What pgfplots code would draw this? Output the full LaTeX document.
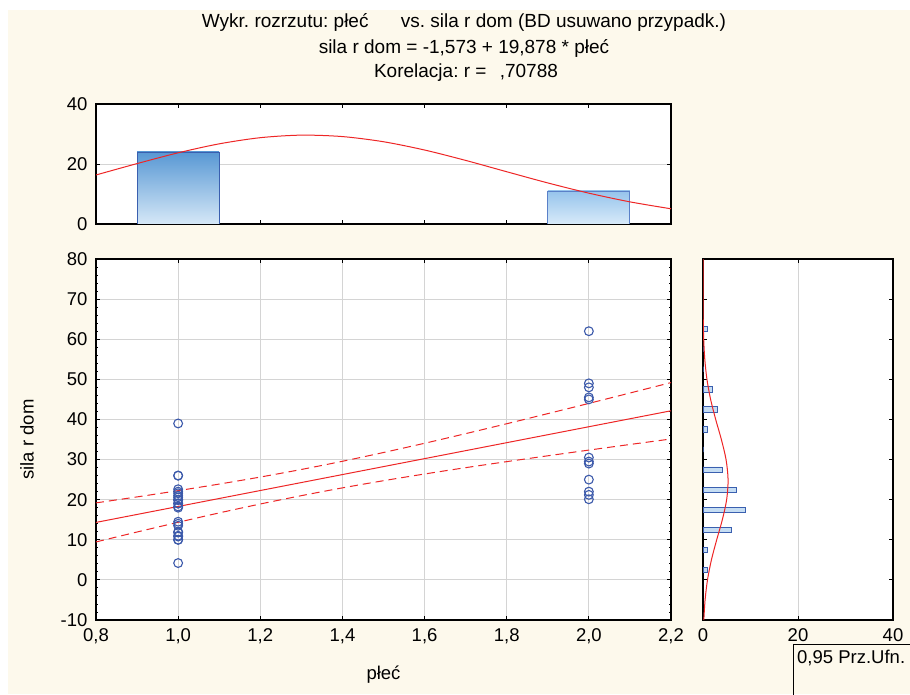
\documentclass[border=0pt]{standalone}
\usepackage{fontspec}
\setmainfont{Liberation Sans}
\usepackage{pgfplots}
\pgfplotsset{compat=1.18}
\definecolor{bgcream}{RGB}{253,249,236}
\definecolor{ptblue}{RGB}{59,89,170}
\definecolor{barline}{RGB}{58,95,175}
\definecolor{fitred}{RGB}{238,38,38}
\definecolor{gridgray}{RGB}{212,212,212}

\newcommand{\statfont}{\fontsize{18.5}{21}\selectfont}
\newcommand{\titlefont}{\fontsize{19}{22}\selectfont}
\frenchspacing

\pgfplotsset{
  statbase/.style={
    scale only axis,
    anchor=south west,
    axis background/.style={fill=white},
    axis line style={black, line width=1.2pt},
    tick style={black, line width=0.9pt},
    major tick length=4pt,
    minor tick length=2.5pt,
    grid style={gridgray, line width=0.8pt},
    tick label style={font=\statfont},
    xticklabel style={yshift=-5pt},
    yticklabel style={xshift=-5pt},
    label style={font=\statfont},
    /pgf/number format/assume math mode=true,
    /pgf/number format/use comma,
  },
}

\begin{document}
\begin{tikzpicture}[x=1pt,y=1pt]
\useasboundingbox (0,0) rectangle (910,694);
\fill[white] (0,0) rectangle (910,694);
\fill[bgcream] (8,0) rectangle (910,684);

\node[font=\titlefont] at (464,672) {Wykr. rozrzutu: płeć\hspace{27pt} vs. sila r dom (BD usuwano przypadk.)};
\node[font=\titlefont] at (464,646) {sila r dom = -1,573 + 19,878 * płeć};
\node[font=\titlefont] at (466,621) {Korelacja: r =\hspace{8pt} ,70788};

% histogram of plec (top)
\begin{axis}[statbase,
  at={(96pt,470pt)}, width=575pt, height=120pt,
  xmin=0.8, xmax=2.2, ymin=0, ymax=40,
  xtick={0.8,1.0,1.2,1.4,1.6,1.8,2.0,2.2}, xticklabels={},
  ytick={0,20,40},
  ymajorgrids,
]
\addplot[ybar, bar width=0.2, bar shift=0pt, draw=barline, line width=0.9pt,
  top color={rgb,255:red,88;green,152;blue,212}, bottom color={rgb,255:red,214;green,232;blue,247}]
  coordinates {(1.0,24)};
\addplot[ybar, bar width=0.2, bar shift=0pt, draw={rgb,255:red,90;green,128;blue,200}, line width=0.9pt,
  top color={rgb,255:red,150;green,196;blue,236}, bottom color={rgb,255:red,216;green,234;blue,249}]
  coordinates {(2.0,11)};
\addplot[fitred, line width=1pt, smooth] coordinates {
  (0.8,16.34) (0.9,20.14) (1.0,23.73) (1.1,26.72) (1.2,28.77) (1.3,29.62)
  (1.4,29.14) (1.5,27.42) (1.6,24.66) (1.7,21.20) (1.8,17.42) (1.9,13.69)
  (2.0,10.28) (2.1,7.38) (2.2,5.07)};
\end{axis}

% scatter
\begin{axis}[statbase,
  at={(96pt,74pt)}, width=575pt, height=361pt,
  xmin=0.8, xmax=2.2, ymin=-10, ymax=80,
  xtick={0.8,1.0,1.2,1.4,1.6,1.8,2.0,2.2},
  ytick={-10,0,10,20,30,40,50,60,70,80},
  minor y tick num=4,
  xticklabel style={/pgf/number format/.cd, fixed, fixed zerofill, precision=1},
  grid=major,
  xlabel={płeć}, ylabel={sila r dom},
  xlabel style={at={(axis description cs:0.5,-0.152)}, anchor=center},
  ylabel style={at={(axis description cs:-0.12,0.5)}, anchor=center},
]
\addplot[only marks, mark=o, mark size=4.4pt, mark options={ptblue, line width=1.1pt}] coordinates {
  (1,39) (1,26) (1,26) (1,22.6) (1,22) (1,21.6) (1,21) (1,20.6) (1,20) (1,19.9)
  (1,19.1) (1,19) (1,18.3) (1,18) (1,14.5) (1,14) (1,13.5) (1,12) (1,11.8)
  (1,11) (1,10.8) (1,10) (1,10) (1,4.2)};
\addplot[only marks, mark=o, mark size=4.4pt, mark options={ptblue, line width=1.1pt}] coordinates {
  (2,62) (2,49) (2,48) (2,45.5) (2,45) (2,30.5) (2,29.5) (2,29) (2,25) (2,22)
  (2,21.2) (2,20.1)};
\addplot[fitred, line width=1pt] coordinates {(0.8,14.329) (2.2,42.159)};
\addplot[fitred, line width=1pt, dash pattern=on 8pt off 5pt, smooth] coordinates {
  (0.8,19.20) (0.9,20.69) (1.0,22.25) (1.1,23.89) (1.2,25.64) (1.3,27.53)
  (1.4,29.57) (1.5,31.76) (1.6,34.06) (1.7,36.46) (1.8,38.93) (1.9,41.45)
  (2.0,44.00) (2.1,46.59) (2.2,49.19)};
\addplot[fitred, line width=1pt, dash pattern=on 8pt off 5pt, smooth] coordinates {
  (0.8,9.46) (0.9,11.94) (1.0,14.36) (1.1,16.70) (1.2,18.92) (1.3,21.00)
  (1.4,22.94) (1.5,24.73) (1.6,26.40) (1.7,27.98) (1.8,29.48) (1.9,30.94)
  (2.0,32.36) (2.1,33.76) (2.2,35.13)};
\end{axis}

% histogram of sila r dom (right)
\begin{axis}[statbase,
  at={(703pt,74pt)}, width=190pt, height=361pt,
  xmin=0, xmax=40, ymin=-10, ymax=80,
  xtick={0,20,40},
  ytick={-10,0,10,20,30,40,50,60,70,80}, yticklabels={},
  xmajorgrids,
]
\addplot[xbar, bar width=1.3, bar shift=0pt, draw=barline, line width=0.9pt,
  fill={rgb,255:red,197;green,221;blue,243}] coordinates {
  (1,2.5) (1,7.5) (6,12.5) (9,17.5) (7,22.5) (4,27.5) (0,32.5)
  (1,37.5) (3,42.5) (2,47.5) (0,52.5) (0,57.5) (1,62.5)};
\addplot[fitred, line width=1pt, smooth] coordinates {
  (0.175,-10) (0.436,-5) (0.944,0) (1.772,5) (2.884,10) (4.069,15) (4.977,20)
  (5.277,25) (4.851,30) (3.866,35) (2.670,40) (1.599,45) (0.830,50) (0.374,55)
  (0.146,60) (0.049,65) (0.015,70) (0.004,75) (0.001,80)};
\end{axis}

\draw[black, line width=0.9pt] (793,-2) -- (793,49.7) -- (912,49.7);
\node[font=\statfont, anchor=west, inner sep=0pt] at (797,36) {0,95 Prz.Ufn.};
\end{tikzpicture}
\end{document}
